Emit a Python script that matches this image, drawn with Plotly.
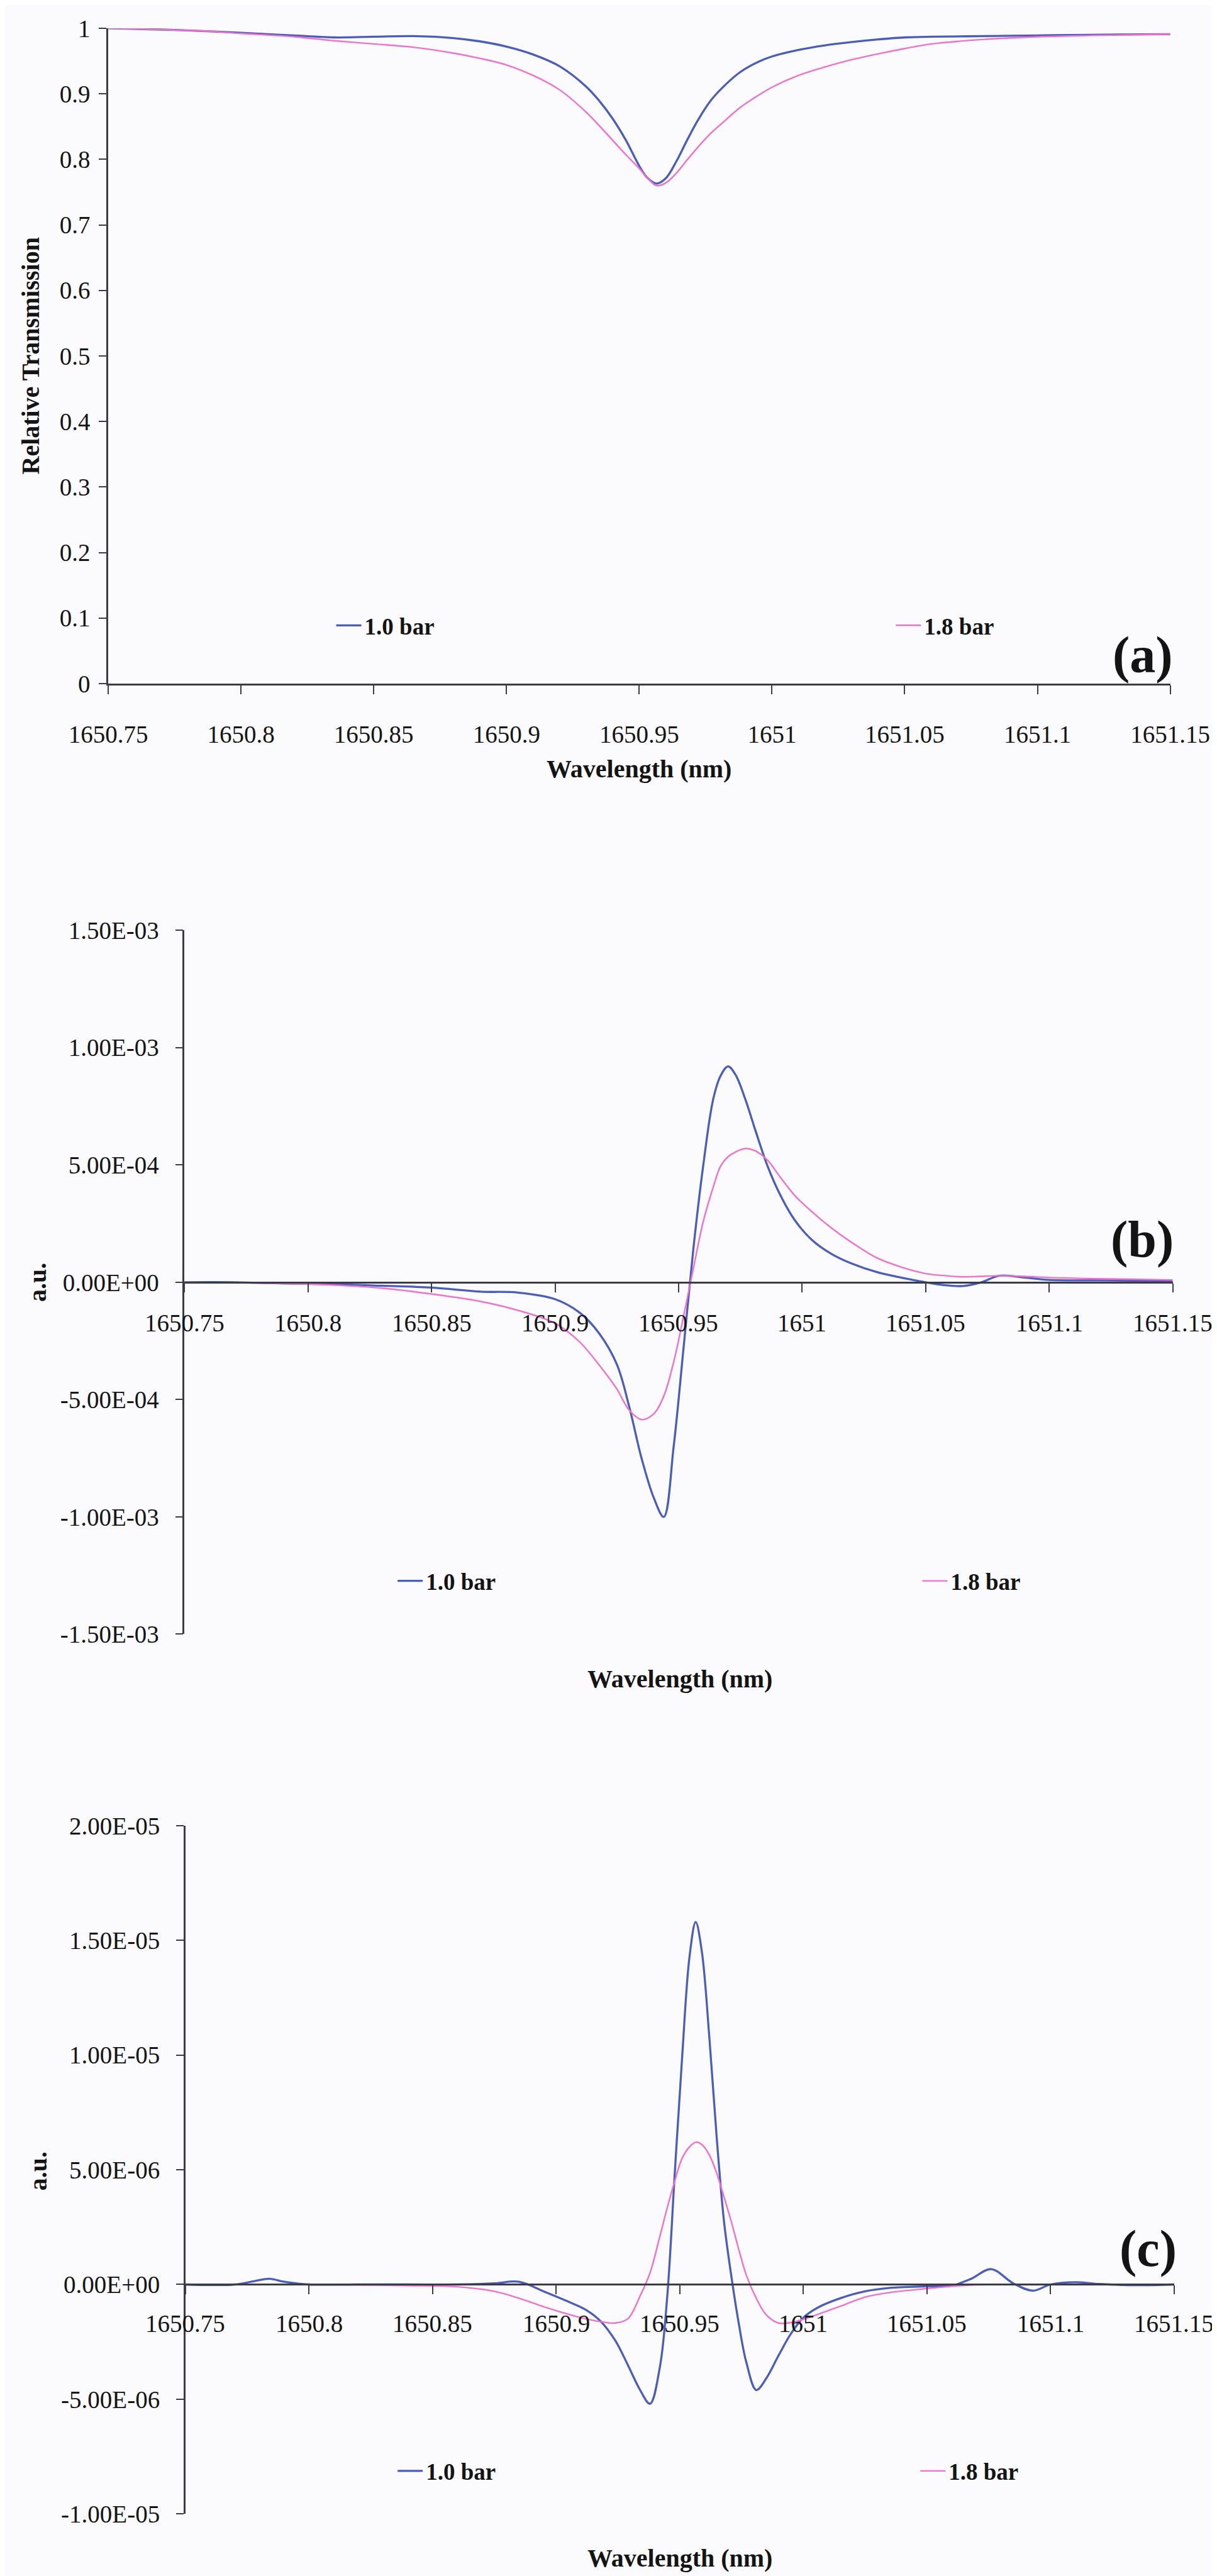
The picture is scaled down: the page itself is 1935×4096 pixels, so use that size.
import plotly.graph_objects as go

# ---------------- data ----------------
x_ticks = [1650.75, 1650.8, 1650.85, 1650.9, 1650.95, 1651.0, 1651.05, 1651.1, 1651.15]
x_tick_text = ["1650.75", "1650.8", "1650.85", "1650.9", "1650.95", "1651", "1651.05", "1651.1", "1651.15"]

ya_ticks = [0, 0.1, 0.2, 0.3, 0.4, 0.5, 0.6, 0.7, 0.8, 0.9, 1.0]
ya_tick_text = ["0", "0.1", "0.2", "0.3", "0.4", "0.5", "0.6", "0.7", "0.8", "0.9", "1"]

yb_ticks = [-1.5e-3, -1.0e-3, -5.0e-4, 0.0, 5.0e-4, 1.0e-3, 1.5e-3]
yb_tick_text = ["-1.50E-03", "-1.00E-03", "-5.00E-04", "0.00E+00", "5.00E-04", "1.00E-03", "1.50E-03"]

yc_ticks = [-1.0e-5, -5.0e-6, 0.0, 5.0e-6, 1.0e-5, 1.5e-5, 2.0e-5]
yc_tick_text = ["-1.00E-05", "-5.00E-06", "0.00E+00", "5.00E-06", "1.00E-05", "1.50E-05", "2.00E-05"]

series_names = ["1.0 bar", "1.8 bar"]

# (a) relative transmission
wl_a = [1650.75, 1650.77, 1650.79, 1650.80, 1650.82, 1650.835, 1650.85, 1650.865, 1650.88, 1650.89,
        1650.90, 1650.91, 1650.92, 1650.93, 1650.935, 1650.94, 1650.945, 1650.95, 1650.953, 1650.9565,
        1650.96, 1650.964, 1650.968, 1650.972, 1650.977, 1650.982, 1650.988, 1650.995, 1651.0, 1651.01,
        1651.02, 1651.03, 1651.04, 1651.05, 1651.06, 1651.08, 1651.10, 1651.12, 1651.15]
trans_10 = [1.000, 0.998, 0.995, 0.993, 0.989, 0.986, 0.987, 0.988, 0.985, 0.980,
            0.972, 0.960, 0.942, 0.911, 0.889, 0.862, 0.829, 0.790, 0.772, 0.763,
            0.771, 0.797, 0.829, 0.859, 0.890, 0.912, 0.933, 0.949, 0.957, 0.967,
            0.974, 0.979, 0.983, 0.986, 0.987, 0.988, 0.989, 0.990, 0.991]
trans_18 = [1.000, 0.998, 0.995, 0.992, 0.987, 0.981, 0.976, 0.971, 0.962, 0.954,
            0.944, 0.928, 0.906, 0.872, 0.851, 0.829, 0.807, 0.786, 0.772, 0.760,
            0.764, 0.779, 0.799, 0.818, 0.840, 0.858, 0.879, 0.898, 0.910, 0.928,
            0.941, 0.952, 0.961, 0.969, 0.976, 0.983, 0.987, 0.989, 0.991]

# (b) first derivative
wl_b = [1650.75, 1650.77, 1650.79, 1650.81, 1650.83, 1650.85, 1650.87, 1650.885, 1650.90, 1650.91,
        1650.918, 1650.925, 1650.93, 1650.935, 1650.94, 1650.944, 1650.948, 1650.952, 1650.956, 1650.96,
        1650.964, 1650.967, 1650.970, 1650.973, 1650.977, 1650.981, 1650.986, 1650.991, 1650.997, 1651.004,
        1651.012, 1651.02, 1651.03, 1651.04, 1651.05, 1651.058, 1651.065, 1651.072, 1651.08, 1651.09,
        1651.10, 1651.12, 1651.15]
d1_10 = [0.0, 0.0, -5e-6, -8e-6, -1.5e-5, -2.3e-5, -4.0e-5, -4.4e-5, -7.2e-5, -1.3e-4,
         -2.2e-4, -3.5e-4, -5.3e-4, -7.5e-4, -9.2e-4, -1.0e-3, -7.0e-4, -2.8e-4, 1.45e-4, 5.0e-4,
         7.8e-4, 8.8e-4, 9.2e-4, 8.85e-4, 7.8e-4, 6.5e-4, 4.95e-4, 3.75e-4, 2.65e-4, 1.8e-4,
         1.2e-4, 8.0e-5, 4.4e-5, 2.0e-5, 0.0, -1.3e-5, -1.6e-5, -2e-6, 2.8e-5, 2.0e-5,
         1.0e-5, 8e-6, 5e-6]
d1_18 = [0.0, -2e-6, -5e-6, -1.2e-5, -2.5e-5, -5.0e-5, -8.2e-5, -1.2e-4, -1.75e-4, -2.55e-4,
         -3.55e-4, -4.55e-4, -5.45e-4, -5.85e-4, -5.6e-4, -4.85e-4, -3.4e-4, -1.45e-4, 6e-5, 2.6e-4,
         4.05e-4, 4.95e-4, 5.35e-4, 5.55e-4, 5.7e-4, 5.6e-4, 5.2e-4, 4.5e-4, 3.7e-4, 3.0e-4,
         2.3e-4, 1.7e-4, 1.05e-4, 6.5e-5, 3.7e-5, 2.8e-5, 2.3e-5, 2.5e-5, 2.8e-5, 2.5e-5,
         2.0e-5, 1.5e-5, 1.0e-5]

# (c) second derivative
wl_c = [1650.75, 1650.77, 1650.778, 1650.784, 1650.79, 1650.80, 1650.82, 1650.84, 1650.86, 1650.875,
        1650.885, 1650.895, 1650.905, 1650.912, 1650.918, 1650.924, 1650.929, 1650.934, 1650.938, 1650.942,
        1650.945, 1650.948, 1650.951, 1650.954, 1650.9565, 1650.959, 1650.962, 1650.965, 1650.968, 1650.971,
        1650.974, 1650.977, 1650.981, 1650.985, 1650.99, 1650.995, 1651.0, 1651.006, 1651.015, 1651.025,
        1651.035, 1651.05, 1651.06, 1651.068, 1651.076, 1651.085, 1651.093, 1651.10, 1651.11, 1651.12,
        1651.135, 1651.15]
d2_10 = [0.0, 0.0, 1.5e-7, 2.5e-7, 1.2e-7, 0.0, 0.0, 0.0, 0.0, 5e-8,
         1.2e-7, -3.0e-7, -7.5e-7, -1.1e-6, -1.6e-6, -2.45e-6, -3.5e-6, -4.6e-6, -5.2e-6, -3.6e-6,
         -5.0e-7, 4.8e-6, 9.9e-6, 14.3e-6, 15.8e-6, 14.5e-6, 10.8e-6, 6.4e-6, 2.7e-6, 3.0e-7,
         -1.75e-6, -3.4e-6, -4.6e-6, -4.1e-6, -3.1e-6, -2.15e-6, -1.45e-6, -1.0e-6, -6.0e-7, -3.0e-7,
         -1.5e-7, -8e-8, -5e-8, 2.5e-7, 6.7e-7, 5e-8, -2.7e-7, 0.0, 1.0e-7, 2e-8,
         -3e-8, 0.0]
d2_18 = [0.0, 0.0, 0.0, 0.0, 0.0, 0.0, -2e-8, -5e-8, -1.0e-7, -3.0e-7,
         -6.0e-7, -9.7e-7, -1.3e-6, -1.5e-6, -1.62e-6, -1.68e-6, -1.5e-6, -5.0e-7, 5.0e-7, 2.1e-6,
         3.35e-6, 4.5e-6, 5.5e-6, 6.0e-6, 6.2e-6, 6.1e-6, 5.65e-6, 4.85e-6, 3.8e-6, 2.7e-6,
         1.5e-6, 4.0e-7, -6.0e-7, -1.32e-6, -1.68e-6, -1.66e-6, -1.52e-6, -1.3e-6, -9.5e-7, -5.5e-7,
         -3.5e-7, -1.8e-7, -8e-8, -2e-8, 0.0, 0.0, 0.0, 0.0, 0.0, 0.0,
         0.0, 0.0]

# ---------------- styling / layout ----------------
W_REF, H_REF = 2936, 6214
W, H = 1935, 4096

def fx(xr):
    return xr / W_REF

def fy(yr):
    return 1 - yr / H_REF

SERIF = "Liberation Serif, Times New Roman, serif"
BLUE = "#4a5cbc"
PINK = "#f070cc"
AXIS = "#3a3a48"
TXT = "#141414"
BG = "#fbfbfd"

fig = go.Figure()

panels = [
    dict(x=wl_a, ys=[trans_10, trans_18], xa="x", ya="y", legs=["legend", "legend2"]),
    dict(x=wl_b, ys=[d1_10, d1_18], xa="x2", ya="y2", legs=["legend3", "legend4"]),
    dict(x=wl_c, ys=[d2_10, d2_18], xa="x3", ya="y3", legs=["legend5", "legend6"]),
]
colors = [BLUE, PINK]
widths = [3.3, 2.4]
for p in panels:
    for k in range(2):
        fig.add_trace(go.Scatter(
            x=p["x"], y=p["ys"][k], mode="lines", name=series_names[k],
            xaxis=p["xa"], yaxis=p["ya"], legend=p["legs"][k],
            line=dict(color=colors[k], width=widths[k], shape="spline", smoothing=1.0),
            hoverinfo="skip",
        ))

tickfont = dict(family=SERIF, size=39, color=TXT)
common_x = dict(range=[1650.75, 1651.15], tickvals=x_ticks, ticktext=x_tick_text,
                showline=True, linecolor=AXIS, linewidth=2.5, ticks="outside", ticklen=14,
                tickwidth=2, tickcolor=AXIS, showgrid=False, zeroline=False, tickfont=tickfont,
                automargin=False, fixedrange=True)
common_y = dict(showline=True, linecolor=AXIS, linewidth=2.5, ticks="outside", ticklen=12,
                tickwidth=2, tickcolor=AXIS, showgrid=False, zeroline=False, tickfont=tickfont,
                automargin=False, fixedrange=True)

# panel domains (reference pixels)
ya_dom = [fy(1637), fy(56)]
yb_dom = [fy(3930), fy(2232)]
yc_dom = [fy(6052), fy(4392)]
yb_range = [-1.5e-3, 1.5e-3]
yc_range = [-1.0e-5, 2.0e-5]

def zero_pos(dom, rng):
    return dom[0] + (0 - rng[0]) / (rng[1] - rng[0]) * (dom[1] - dom[0])

fig.update_layout(
    xaxis=dict(domain=[fx(249), fx(2811)], anchor="y", ticklabelstandoff=30, **common_x),
    yaxis=dict(domain=ya_dom, range=[0, 1], anchor="x", tickvals=ya_ticks, ticktext=ya_tick_text,
               ticklabelstandoff=6, **common_y),
    # panels (b) and (c): the wavelength axis crosses at y = 0
    xaxis2=dict(domain=[fx(433), fx(2817)], anchor="free", position=zero_pos(yb_dom, yb_range),
                showticklabels=False, **common_x),
    yaxis2=dict(domain=yb_dom, range=yb_range, anchor="x2", tickvals=yb_ticks, ticktext=yb_tick_text,
                ticklabelstandoff=18, **common_y),
    xaxis3=dict(domain=[fx(435), fx(2820)], anchor="free", position=zero_pos(yc_dom, yc_range),
                showticklabels=False, **common_x),
    yaxis3=dict(domain=yc_dom, range=yc_range, anchor="x3", tickvals=yc_ticks, ticktext=yc_tick_text,
                ticklabelstandoff=18, **common_y),
)

# legends: one per series, positioned like the reference
leg_font = dict(family=SERIF, size=37, color=TXT, weight="bold")
leg_pos = {
    "legend": (799, 1497), "legend2": (2149, 1497),
    "legend3": (947, 3802), "legend4": (2213, 3802),
    "legend5": (947, 5949), "legend6": (2208, 5949),
}
for name, (lx, ly) in leg_pos.items():
    fig.update_layout({name: dict(x=fx(lx) - 5 / W, y=fy(ly), xanchor="left", yanchor="middle",
                                  bgcolor="rgba(0,0,0,0)", borderwidth=0, font=leg_font,
                                  itemwidth=40, tracegroupgap=0)})

annotations = []
# wavelength tick labels of panels (b) and (c), hung below the zero-crossing axis
for xref, label_y in [("x2", 3179), ("x3", 5593)]:
    for val, txt in zip(x_ticks, x_tick_text):
        annotations.append(dict(text=txt, x=val, xref=xref, y=fy(label_y), yref="paper",
                                xanchor="center", yanchor="middle", showarrow=False, font=tickfont))

title_font = dict(family=SERIF, size=40, color=TXT, weight="bold")
for (cx, cy) in [(1530, 1842), (1628, 4038), (1628, 6158)]:
    annotations.append(dict(text="Wavelength (nm)", x=fx(cx), y=fy(cy), xref="paper", yref="paper",
                            xanchor="center", yanchor="middle", showarrow=False, font=title_font))
for (txt, cx, cy) in [("Relative Transmission", 62, 846), ("a.u.", 79, 3081), ("a.u.", 79, 5225)]:
    annotations.append(dict(text=txt, x=fx(cx), y=fy(cy), xref="paper", yref="paper", textangle=-90,
                            xanchor="center", yanchor="middle", showarrow=False, font=title_font))
panel_font = dict(family=SERIF, size=82, color=TXT, weight="bold")
for (txt, rx, by) in [("(a)", 2820, 1640), ("(b)", 2822, 3050), ("(c)", 2830, 5485)]:
    annotations.append(dict(text=txt, x=fx(rx), y=fy(by), xref="paper", yref="paper",
                            xanchor="right", yanchor="bottom", showarrow=False, font=panel_font))

fig.update_layout(
    width=W, height=H, autosize=False, template="none",
    margin=dict(l=0, r=0, t=0, b=0, pad=0),
    paper_bgcolor=BG, plot_bgcolor="rgba(0,0,0,0)",
    annotations=annotations, showlegend=True,
)

fig.write_html("out.html", config={"displayModeBar": False})
